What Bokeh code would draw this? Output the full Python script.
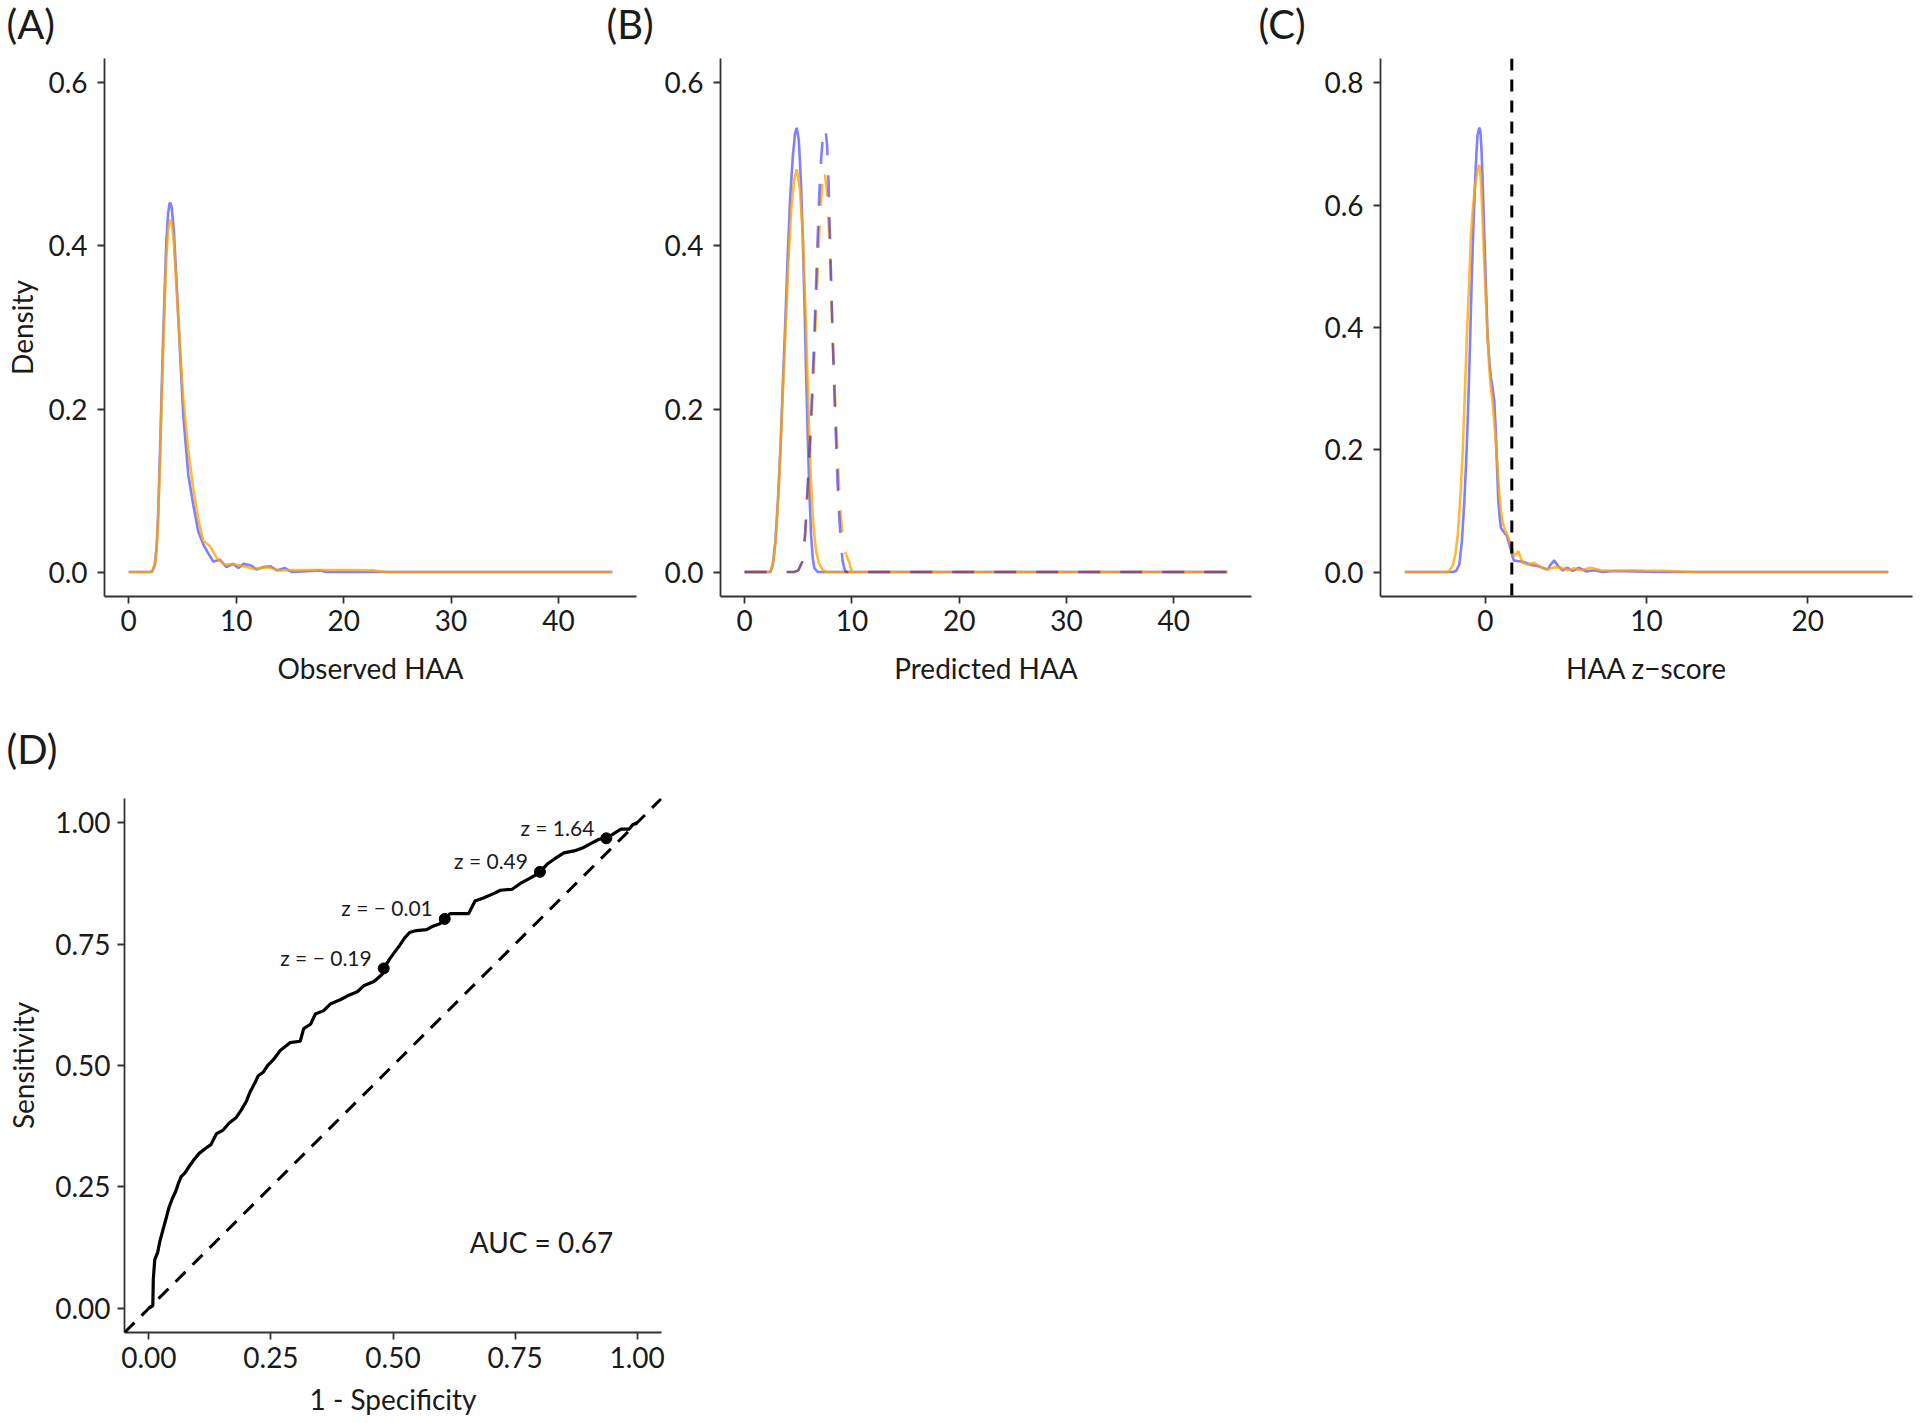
from bokeh.plotting import figure
from bokeh.models import Range1d, FixedTicker, NumeralTickFormatter, Span, Slope, Label
from bokeh.layouts import column, row
from bokeh.embed import file_html
from bokeh.resources import INLINE
from bokeh.core.properties import value

# ---------------- data ----------------
# Panel A: density of observed HAA (two groups)
obs_x_blue = [0, 2.0, 2.2, 2.43, 2.6, 2.74, 2.9, 3.05, 3.2, 3.36, 3.5, 3.67, 3.8, 3.89, 4.0, 4.2, 4.4, 4.6, 4.85,
              5.07, 5.54, 6.0, 6.47, 6.94, 7.4, 7.87, 8.5, 9.1, 9.7, 10.2, 10.7, 11.4, 11.9, 12.5, 13.2, 13.8,
              14.5, 15.2, 16.6, 17.8, 18.4, 45]
obs_y_blue = [0, 0, 0.001, 0.009, 0.03, 0.07, 0.14, 0.214, 0.285, 0.35, 0.405, 0.44, 0.452, 0.453, 0.447, 0.42,
              0.37, 0.317, 0.25, 0.194, 0.12, 0.083, 0.05, 0.034, 0.023, 0.013, 0.015, 0.006, 0.010, 0.005,
              0.010, 0.008, 0.003, 0.006, 0.007, 0.002, 0.005, 0.0, 0.001, 0.002, 0.0, 0.0]
obs_x_orange = [0, 2.0, 2.2, 2.43, 2.6, 2.74, 2.9, 3.05, 3.2, 3.36, 3.5, 3.67, 3.8, 3.9, 4.0, 4.2, 4.4, 4.6, 4.85,
                5.07, 5.54, 6.0, 6.47, 6.94, 7.56, 8.2, 8.96, 9.7, 10.7, 11.6, 12.9, 14.1, 16.0, 17.5, 20.3,
                22.8, 24.0, 45]
obs_y_orange = [0, 0, 0.001, 0.008, 0.028, 0.065, 0.13, 0.2, 0.27, 0.335, 0.385, 0.42, 0.43, 0.432, 0.428, 0.405,
                0.36, 0.315, 0.26, 0.214, 0.15, 0.103, 0.065, 0.038, 0.032, 0.017, 0.009, 0.010, 0.007, 0.004,
                0.006, 0.002, 0.0025, 0.0025, 0.0025, 0.002, 0.0, 0.0]

# Panel B: density of predicted HAA (solid and dashed curves)
pred_x_blue = [0, 2.4, 2.63, 2.85, 3.1, 3.35, 3.56, 3.8, 4.02, 4.25, 4.49, 4.7, 4.86, 5.05, 5.26, 5.42, 5.57,
               5.72, 5.88, 6.03, 6.19, 6.35, 6.5, 6.8, 45]
pred_y_blue = [0, 0, 0.009, 0.035, 0.087, 0.155, 0.23, 0.31, 0.39, 0.46, 0.51, 0.538, 0.545, 0.53, 0.476, 0.41,
               0.333, 0.25, 0.169, 0.1, 0.046, 0.017, 0.005, 0, 0]
pred_x_orange = [0, 2.3, 2.48, 2.7, 2.94, 3.17, 3.4, 3.64, 3.87, 4.1, 4.33, 4.6, 4.86, 5.15, 5.42, 5.65, 5.88,
                 6.03, 6.19, 6.42, 6.66, 6.95, 7.28, 7.65, 45]
pred_y_orange = [0, 0, 0.003, 0.015, 0.046, 0.1, 0.169, 0.245, 0.316, 0.385, 0.443, 0.48, 0.494, 0.47, 0.414,
                 0.33, 0.23, 0.165, 0.108, 0.055, 0.026, 0.01, 0.003, 0, 0]
pred2_x_blue = [0, 4.64, 5.0, 5.42, 5.65, 5.88, 6.05, 6.19, 6.35, 6.5, 6.65, 6.81, 6.95, 7.12, 7.3, 7.52, 7.68,
                7.83, 8.0, 8.2, 8.35, 8.5, 8.66, 8.82, 8.98, 9.13, 9.3, 9.44, 45]
pred2_y_blue = [0, 0, 0.002, 0.014, 0.05, 0.108, 0.15, 0.19, 0.24, 0.29, 0.35, 0.41, 0.46, 0.505, 0.535, 0.545,
                0.525, 0.476, 0.39, 0.29, 0.225, 0.169, 0.11, 0.067, 0.035, 0.014, 0.004, 0, 0]
pred2_x_orange = [0, 4.64, 5.0, 5.42, 5.65, 5.88, 6.05, 6.19, 6.35, 6.5, 6.65, 6.81, 6.95, 7.12, 7.3, 7.43, 7.65,
                  7.9, 8.05, 8.2, 8.4, 8.58, 8.78, 8.98, 9.2, 9.44, 9.75, 10.0, 45]
pred2_y_orange = [0, 0, 0.002, 0.013, 0.045, 0.098, 0.138, 0.175, 0.22, 0.265, 0.32, 0.37, 0.415, 0.455, 0.485,
                  0.494, 0.47, 0.41, 0.35, 0.29, 0.225, 0.169, 0.11, 0.067, 0.04, 0.022, 0.012, 0, 0]

# Panel C: density of HAA z-score
z_x_blue = [-5, -2.02, -1.8, -1.61, -1.45, -1.30, -1.17, -1.05, -0.95, -0.85, -0.75, -0.64, -0.55, -0.48, -0.37,
            -0.3, -0.23, -0.15, -0.06, 0.04, 0.14, 0.25, 0.35, 0.46, 0.56, 0.66, 0.73, 0.81, 0.89, 0.97, 1.14,
            1.34, 1.55, 1.76, 2.0, 2.31, 2.62, 2.93, 3.24, 3.55, 3.86, 4.07, 4.28, 4.48, 4.79, 5.1, 5.41, 5.83,
            6.24, 6.76, 7.27, 8.0, 9.24, 10.06, 11.0, 25]
z_y_blue = [0, 0, 0.002, 0.0125, 0.05, 0.116, 0.19, 0.279, 0.37, 0.47, 0.555, 0.633, 0.685, 0.715, 0.727, 0.72,
            0.688, 0.63, 0.552, 0.47, 0.388, 0.345, 0.318, 0.3, 0.279, 0.225, 0.17, 0.116, 0.09, 0.072, 0.066,
            0.059, 0.040, 0.019, 0.018, 0.017, 0.014, 0.011, 0.010, 0.007, 0.004, 0.0125, 0.019, 0.011, 0.003,
            0.007, 0.002, 0.007, 0.001, 0.003, 0.0, 0.0016, 0.001, 0.0005, 0, 0]
z_x_orange = [-5, -2.3, -2.02, -1.85, -1.71, -1.55, -1.40, -1.27, -1.14, -1.0, -0.89, -0.75, -0.62, -0.5, -0.37,
              -0.27, -0.17, -0.07, 0.04, 0.14, 0.25, 0.35, 0.45, 0.56, 0.66, 0.77, 0.87, 0.97, 1.07, 1.2, 1.34,
              1.59, 1.80, 2.05, 2.31, 2.62, 3.04, 3.45, 3.86, 4.28, 4.69, 5.1, 5.52, 5.93, 6.55, 7.17, 8.0, 9.24,
              10.06, 11.1, 13.0, 25]
z_y_orange = [0, 0, 0.01, 0.03, 0.06, 0.12, 0.198, 0.29, 0.388, 0.475, 0.552, 0.6, 0.633, 0.655, 0.666, 0.64,
              0.579, 0.51, 0.443, 0.385, 0.334, 0.3, 0.279, 0.245, 0.209, 0.168, 0.127, 0.1, 0.083, 0.07, 0.062,
              0.045, 0.026, 0.034, 0.015, 0.0125, 0.015, 0.008, 0.004, 0.008, 0.007, 0.003, 0.006, 0.003, 0.007,
              0.003, 0.002, 0.003, 0.002, 0.002, 0, 0]
z_threshold = 1.645

# Panel D: ROC curve
roc_fpr = [0.000, 0.008, 0.009, 0.012, 0.018, 0.022, 0.026, 0.030, 0.036, 0.041, 0.048, 0.055, 0.060, 0.066,
           0.073, 0.083, 0.093, 0.103, 0.117, 0.127, 0.138, 0.152, 0.165, 0.179, 0.189, 0.200, 0.207, 0.217,
           0.224, 0.234, 0.244, 0.255, 0.269, 0.289, 0.310, 0.317, 0.331, 0.341, 0.358, 0.372, 0.393, 0.406,
           0.427, 0.441, 0.461, 0.478, 0.481, 0.493, 0.503, 0.514, 0.524, 0.534, 0.548, 0.569, 0.582, 0.596,
           0.606, 0.617, 0.655, 0.668, 0.685, 0.706, 0.720, 0.744, 0.761, 0.779, 0.795, 0.801, 0.816, 0.830,
           0.850, 0.871, 0.888, 0.905, 0.922, 0.937, 0.953, 0.967, 0.984, 0.991, 1.000]
roc_tpr = [0.000, 0.005, 0.060, 0.100, 0.115, 0.136, 0.151, 0.166, 0.188, 0.207, 0.226, 0.241, 0.256, 0.271,
           0.278, 0.293, 0.307, 0.319, 0.330, 0.337, 0.359, 0.367, 0.382, 0.393, 0.408, 0.427, 0.445, 0.464,
           0.479, 0.486, 0.501, 0.512, 0.531, 0.547, 0.550, 0.576, 0.585, 0.606, 0.613, 0.627, 0.636, 0.643,
           0.652, 0.665, 0.673, 0.688, 0.700, 0.719, 0.733, 0.748, 0.763, 0.774, 0.778, 0.780, 0.787, 0.792,
           0.802, 0.813, 0.813, 0.839, 0.845, 0.854, 0.861, 0.863, 0.875, 0.885, 0.894, 0.899, 0.915, 0.925,
           0.938, 0.942, 0.948, 0.957, 0.966, 0.968, 0.978, 0.987, 0.987, 0.996, 1.000]
cut_fpr = [0.481, 0.606, 0.801, 0.937]
cut_tpr = [0.700, 0.802, 0.899, 0.968]
cut_labels = ["z = \u2212 0.19", "z = \u2212 0.01", "z = 0.49", "z = 1.64"]
auc_text = "AUC = 0.67"
auc_pos = (0.657, 0.136)

panel_letters = ["(A)", "(B)", "(C)"]

density_xticks = [0, 10, 20, 30, 40]
density_yticks = [0.0, 0.2, 0.4, 0.6]
z_xticks = [0, 10, 20]
z_yticks = [0.0, 0.2, 0.4, 0.6, 0.8]
roc_ticks = [0.0, 0.25, 0.5, 0.75, 1.0]

# ---------------- style ----------------
FONT = "Lato"
TXT = "#1a1a1a"
AXC = "#333333"
BLUE, BLUE_A = "#0000FF", 0.5
ORANGE, ORANGE_A = "#FFA500", 0.78
LW = 2.6
LETTER_FS = "40px"

PAGE_W = 1920
STRIP_H = 50
LETTER_LEFT = [6, 606, 1258]     # left edges of the panel letters (px)
LETTER_BASE = 27                 # baseline height in the strip (px)


def make_fig(fw, fh, left, right, top, bottom, xr, yr):
    p = figure(frame_width=fw, frame_height=fh, x_range=Range1d(*xr), y_range=Range1d(*yr),
               output_backend="svg", toolbar_location=None,
               min_border_left=left, min_border_right=right, min_border_top=top, min_border_bottom=bottom)
    p.xgrid.visible = False
    p.ygrid.visible = False
    p.outline_line_color = None
    for ax in (p.xaxis[0], p.yaxis[0]):
        ax.axis_line_color = AXC
        ax.axis_line_width = 1.8
        ax.major_tick_line_color = AXC
        ax.major_tick_line_width = 1.8
        ax.major_tick_out = 7
        ax.major_tick_in = 0
        ax.minor_tick_line_color = None
        ax.major_label_text_font = FONT
        ax.major_label_text_font_size = "28px"
        ax.major_label_text_color = TXT
        ax.axis_label_text_font = FONT
        ax.axis_label_text_font_size = "28px"
        ax.axis_label_text_font_style = "normal"
        ax.axis_label_text_color = TXT
    p.xaxis[0].major_label_standoff = 6
    p.yaxis[0].major_label_standoff = 10
    return p


# strip carrying the panel letters of the top row
strip = figure(frame_width=PAGE_W, frame_height=STRIP_H, x_range=Range1d(0, PAGE_W),
               y_range=Range1d(0, STRIP_H), x_axis_type=None, y_axis_type=None,
               min_border=0, min_border_left=0, min_border_right=0, min_border_top=0, min_border_bottom=0,
               output_backend="svg", toolbar_location=None)
strip.outline_line_color = None
strip.xgrid.visible = False
strip.ygrid.visible = False
strip.text(x=LETTER_LEFT, y=[LETTER_BASE] * len(panel_letters), text=panel_letters,
           text_font=value(FONT), text_font_size=LETTER_FS, text_color=TXT,
           text_align="left", text_baseline="alphabetic")

TOP_B = 100
# Panel A
pA = make_fig(532, 538, 104, 10, 8, TOP_B, (-2.25, 47.25), (-0.03, 0.63))
pA.line(obs_x_blue, obs_y_blue, line_color=BLUE, line_alpha=BLUE_A, line_width=LW)
pA.line(obs_x_orange, obs_y_orange, line_color=ORANGE, line_alpha=ORANGE_A, line_width=LW)
pA.xaxis[0].ticker = FixedTicker(ticks=density_xticks)
pA.yaxis[0].ticker = FixedTicker(ticks=density_yticks)
pA.yaxis[0].formatter = NumeralTickFormatter(format="0.0")
pA.xaxis[0].axis_label = "Observed HAA"
pA.yaxis[0].axis_label = "Density"
pA.xaxis[0].axis_label_standoff = 17
pA.yaxis[0].axis_label_standoff = 6

# Panel B
pB = make_fig(531, 538, 74, 10, 8, TOP_B, (-2.25, 47.25), (-0.03, 0.63))
pB.line(pred_x_blue, pred_y_blue, line_color=BLUE, line_alpha=BLUE_A, line_width=LW)
pB.line(pred_x_orange, pred_y_orange, line_color=ORANGE, line_alpha=ORANGE_A, line_width=LW)
pB.line(pred2_x_orange, pred2_y_orange, line_color=ORANGE, line_alpha=ORANGE_A, line_width=LW, line_dash="22 20")
pB.line(pred2_x_blue, pred2_y_blue, line_color=BLUE, line_alpha=BLUE_A, line_width=LW, line_dash="22 20")
pB.xaxis[0].ticker = FixedTicker(ticks=density_xticks)
pB.yaxis[0].ticker = FixedTicker(ticks=density_yticks)
pB.yaxis[0].formatter = NumeralTickFormatter(format="0.0")
pB.xaxis[0].axis_label = "Predicted HAA"
pB.xaxis[0].axis_label_standoff = 17

# Panel C
pC = make_fig(532, 538, 119, 8, 8, TOP_B, (-6.5, 26.5), (-0.04, 0.84))
pC.line(z_x_blue, z_y_blue, line_color=BLUE, line_alpha=BLUE_A, line_width=LW)
pC.line(z_x_orange, z_y_orange, line_color=ORANGE, line_alpha=ORANGE_A, line_width=LW)
pC.add_layout(Span(location=z_threshold, dimension="height", line_color="black",
                   line_width=3, line_dash="12 9"))
pC.xaxis[0].ticker = FixedTicker(ticks=z_xticks)
pC.yaxis[0].ticker = FixedTicker(ticks=z_yticks)
pC.yaxis[0].formatter = NumeralTickFormatter(format="0.0")
pC.xaxis[0].axis_label = "HAA z\u2212score"
pC.xaxis[0].axis_label_standoff = 17

# Panel D
pD = make_fig(537, 534, 124, 20, 102, 40, (-0.05, 1.05), (-0.05, 1.05))
pD.title.text = "(D)"
pD.title.align = "left"
pD.title.offset = -118
pD.title.standoff = 51
pD.title.vertical_align = "bottom"
pD.title.text_font = FONT
pD.title.text_font_size = LETTER_FS
pD.title.text_font_style = "normal"
pD.title.text_color = TXT
pD.add_layout(Slope(gradient=1, y_intercept=0, line_color="black", line_width=3, line_dash="14 10"))
pD.line(roc_fpr, roc_tpr, line_color="black", line_width=3.2)
pD.scatter(cut_fpr, cut_tpr, size=11, color="black")
pD.text(cut_fpr, cut_tpr, text=cut_labels, x_offset=-12, y_offset=-11, text_align="right",
        text_baseline="middle", text_font=value(FONT), text_font_size="21px", text_color=TXT)
pD.add_layout(Label(x=auc_pos[0], y=auc_pos[1], text=auc_text, text_font=FONT, text_font_size="28px",
                    text_color=TXT, text_baseline="middle", text_align="left"))
pD.xaxis[0].ticker = FixedTicker(ticks=roc_ticks)
pD.yaxis[0].ticker = FixedTicker(ticks=roc_ticks)
pD.xaxis[0].formatter = NumeralTickFormatter(format="0.00")
pD.yaxis[0].formatter = NumeralTickFormatter(format="0.00")
pD.xaxis[0].major_label_standoff = 7
pD.yaxis[0].major_label_standoff = 7
pD.xaxis[0].axis_label = "1 - Specificity"
pD.yaxis[0].axis_label = "Sensitivity"
pD.xaxis[0].axis_label_standoff = 11
pD.yaxis[0].axis_label_standoff = 12

layout = column(row(strip), row(pA, pB, pC), row(pD))
open("out.html", "w").write(file_html(layout, INLINE))
